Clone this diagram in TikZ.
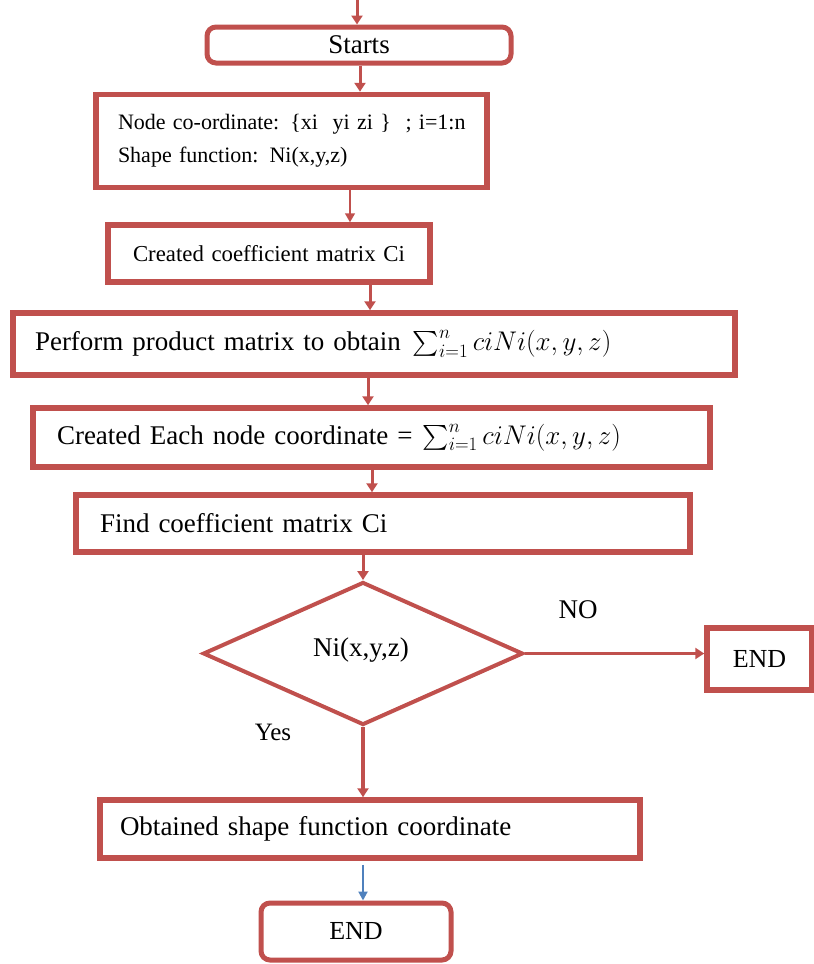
\documentclass[tikz,border=0pt]{standalone}
\usepackage{fix-cm}
\usepackage{exscale}
\usepackage{fontspec}
\setmainfont{Liberation Serif}
\usetikzlibrary{shapes.geometric,arrows.meta}
\definecolor{boxred}{HTML}{C0504D}
\definecolor{flowblue}{HTML}{4F81BD}
\newcommand{\bigtext}{\fontsize{27}{33}\selectfont}
\newcommand{\smalltext}{\fontsize{22}{33}\selectfont}
\newcommand{\sumexpr}{$\sum\nolimits_{i=1}^{n} ciNi(x,y,z)$}
\begin{document}
\begin{tikzpicture}[x=1pt,y=-1pt,
  every node/.style={font=\bigtext},
  box/.style={draw=boxred, line width=5.5pt, rectangle, align=left, inner ysep=0pt},
  roundbox/.style={draw=boxred, line width=5pt, rectangle, rounded corners=9pt, inner sep=0pt},
  decision/.style={draw=boxred, line width=4pt, diamond, inner sep=0pt},
  arr/.style={draw=boxred, line width=3pt, -{Triangle[width=11pt,length=9pt]}},
  thinarr/.style={draw=boxred, line width=1.5pt, -{Triangle[width=10pt,length=9pt]}},
  bluearr/.style={draw=flowblue, line width=2pt, -{Triangle[width=9pt,length=9pt]}},
  lbl/.style={inner sep=0pt}]
\useasboundingbox (0,0) rectangle (814,964);

% flow boxes
\node[roundbox, minimum width=304, minimum height=36] (start) at (359,45) {Starts};
\node[box, font=\smalltext, minimum height=93, text width=347, inner xsep=22] (b2) at (291.5,141)
  {\mbox{Node co-ordinate: \{xi\ \ yi zi \}\ \ ; i=1:n}\\\mbox{Shape function: Ni(x,y,z)}};
\node[box, font=\fontsize{22.8}{28}\selectfont, minimum height=57, text width=272, inner xsep=25] (b3) at (269,253.5)
  {\mbox{Created coefficient matrix Ci}};
\node[box, minimum height=62, text width=678, inner xsep=22] (b4) at (374,344)
  {Perform product matrix to obtain\hspace{12pt}\sumexpr};
\node[box, minimum height=59, text width=629, inner xsep=24] (b5) at (371.5,437.5)
  {Created Each node coordinate =\hspace{10pt}\sumexpr};
\node[box, minimum height=57, text width=566, inner xsep=24] (b6) at (383,523.5)
  {Find coefficient matrix Ci};
\node[decision, minimum width=320, minimum height=143] (dec) at (363,653.5) {};
\node[lbl] (dectext) at (361,650) {Ni(x,y,z)};
\node[box, font=\fontsize{26}{30}\selectfont, minimum width=105, minimum height=62, align=center] (endr) at (759.5,659) {END};
\node[box, minimum height=58, text width=500, inner xsep=20] (b7) at (370,829)
  {Obtained shape function coordinate};
\node[roundbox, font=\fontsize{26}{30}\selectfont, minimum width=190, minimum height=57] (endb) at (356,931.5) {END};

% branch labels
\node[lbl] (no) at (578,610) {NO};
\node[lbl, font=\fontsize{25}{30}\selectfont] (yes) at (273,732) {Yes};

% x positions of the vertical connectors
\coordinate (top) at (357,0);
\coordinate (c1) at (360,0);
\coordinate (c2) at (350,0);
\coordinate (c3) at (370,0);
\coordinate (c4) at (368,0);
\coordinate (c5) at (372,0);
\coordinate (c8) at (363,0);

% connectors
\draw[arr] (top) -- (start.north -| top);
\draw[arr] (start.south -| c1) -- (b2.north -| c1);
\draw[thinarr] (b2.south -| c2) -- (b3.north -| c2);
\draw[arr] (b3.south -| c3) -- (b4.north -| c3);
\draw[arr] (b4.south -| c4) -- (b5.north -| c4);
\draw[arr] (b5.south -| c5) -- (b6.north -| c5);
\draw[arr] (b6.south -| dec.north) -- (dec.north);
\draw[arr, line width=3.5pt] (dec.east) -- (dec.east -| endr.west);
\draw[arr, line width=3.5pt] (dec.south) -- (b7.north -| dec.south);
\draw[bluearr] (b7.south -| c8) ++(0,4) coordinate (bs) (bs) -- (endb.north -| c8);
\end{tikzpicture}
\end{document}
